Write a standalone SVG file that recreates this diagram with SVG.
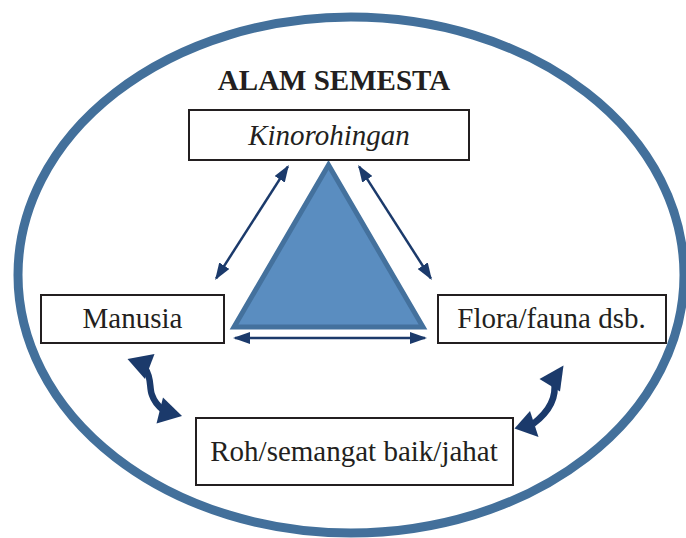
<svg xmlns="http://www.w3.org/2000/svg" width="686" height="538" viewBox="0 0 686 538">
<style>
.box{fill:#fff;stroke:#231f20;stroke-width:2}
.t{font-family:"Liberation Serif","Times New Roman",serif;font-size:29px;fill:#231f20;text-anchor:middle}
.thin{stroke:#1b3a6b;stroke-width:2.5;fill:none}
.thick{stroke:#1b3a6b;stroke-width:6.5;fill:none}
.head{fill:#1b3a6b}
</style>
<defs>
<marker id="ah" viewBox="0 0 17 12" refX="15" refY="6" markerWidth="17" markerHeight="12" markerUnits="userSpaceOnUse" orient="auto-start-reverse"><path d="M0,0 L17,6 L0,12 z" fill="#1b3a6b"/></marker>
</defs>
<g id="universe">
<ellipse cx="351" cy="275" rx="333" ry="258" fill="none" stroke="#43709b" stroke-width="9"/>
<text class="t" x="334" y="90" font-weight="bold">ALAM SEMESTA</text>
</g>
<g id="triangle">
<polygon points="328.5,165 234,327 423,327" fill="#5a8dc0" stroke="#44719d" stroke-width="5"/>
</g>
<g id="connectors">
<line class="thin" x1="287.8" y1="166.7" x2="216.2" y2="278.3" marker-start="url(#ah)" marker-end="url(#ah)"/>
<line class="thin" x1="359.2" y1="166.7" x2="430.8" y2="278.3" marker-start="url(#ah)" marker-end="url(#ah)"/>
<line class="thin" x1="235" y1="338" x2="425" y2="338" marker-start="url(#ah)" marker-end="url(#ah)"/>
<g id="curve-left">
<path class="thick" d="M145,368 C152,378 149,388 152,395 C154,401 157,405 163,410"/>
<polygon class="head" points="127.5,359 154.5,354 145,379"/>
<polygon class="head" points="163,397.5 182,416 156.5,423.5"/>
</g>
<g id="curve-right">
<path class="thick" d="M554,381 C557,397 550,411 533,424"/>
<polygon class="head" points="539.5,379 563.5,365.5 560,391.5"/>
<polygon class="head" points="514.5,428.5 530,411 538.5,437"/>
</g>
</g>
<g id="kinorohingan">
<rect class="box" x="189" y="110" width="280" height="50"/>
<text class="t" x="329" y="145" font-style="italic" font-size="28.5">Kinorohingan</text>
</g>
<g id="manusia">
<rect class="box" x="41" y="295" width="183" height="48"/>
<text class="t" x="132.5" y="328">Manusia</text>
</g>
<g id="flora">
<rect class="box" x="438" y="295" width="228" height="48"/>
<text class="t" x="551.5" y="328">Flora/fauna dsb.</text>
</g>
<g id="roh">
<rect class="box" x="196" y="418" width="317" height="67"/>
<text class="t" x="354" y="461">Roh/semangat baik/jahat</text>
</g>
</svg>
